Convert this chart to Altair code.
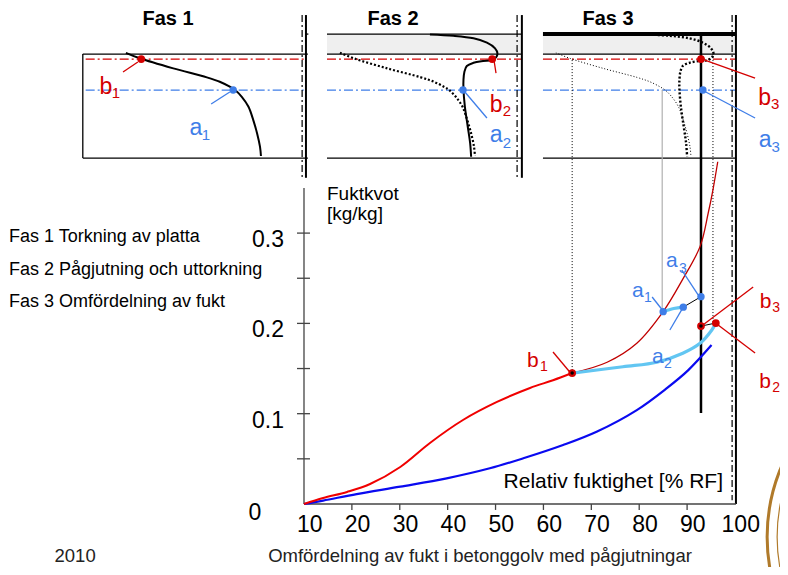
import altair as alt
import pandas as pd

# ---------------- values ----------------
# Main diagram: moisture ratio u [kg/kg] against relative humidity [% RF]
des_low_rh = [10.0, 14.0, 19.0, 23.8, 30.1, 36.3, 43.2, 50.3, 57.2, 62.0, 66.0]
des_low_u = [0.000, 0.0066, 0.0133, 0.0221, 0.041, 0.0676, 0.093, 0.113, 0.1285, 0.137, 0.145]
des_high_rh = [66.0, 73.3, 79.5, 85.0, 89.1, 92.7, 94.4, 95.4, 96.4]
des_high_u = [0.145, 0.157, 0.178, 0.213, 0.249, 0.285, 0.322, 0.348, 0.379]
abs_rh = [10.0, 14.0, 21.0, 30.1, 39.8, 48.8, 55.8, 64.1, 71.1, 79.5, 85.7, 90.2, 95.1]
abs_u = [0.000, 0.0037, 0.011, 0.0192, 0.0284, 0.0395, 0.0506, 0.0653, 0.080, 0.104, 0.128, 0.148, 0.176]
path_b_rh = [66.0, 76.6, 83.7, 89.1, 92.7, 95.2, 96.0]
path_b_u = [0.145, 0.152, 0.157, 0.167, 0.178, 0.193, 0.2004]
path_a_rh = [85.0, 87.2, 89.2]
path_a_u = [0.213, 0.2165, 0.218]

# states b1..a3: in the main diagram and in the profile panels
state_names = ["b1", "a1", "b2", "a2", "b3", "a3"]
state_main_rh = [66.0, 85.0, 96.0, 89.2, 92.9, 92.9]
state_main_u = [0.145, 0.213, 0.2004, 0.218, 0.197, 0.2296]
state_panel = ["Fas1", "Fas1", "Fas2", "Fas2", "Fas3", "Fas3"]
state_panel_rh = [65.8, 85.0, 94.4, 88.3, 92.9, 93.3]
state_depth = [4.8, 34.6, 4.8, 34.6, 4.8, 34.6]

# moisture profiles: RH [%] against depth [mm] (0 = top of slab, negative = topping)
prof1_rh = [62.6, 65.5, 72.5, 79.5, 82.2, 84.3, 85.4, 86.8, 88.2, 89.2, 90.0, 90.6, 90.8]
prof1_d = [-1.2, 4.1, 13.8, 22.4, 26.6, 31.4, 34.6, 41.1, 50.7, 63.5, 76.3, 89.1, 98.0]
prof2_rh = [81.4, 86.3, 90.5, 93.3, 95.0, 95.5, 95.2, 94.3, 92.5, 90.5, 89.1, 88.6, 88.4, 88.4,
            88.7, 89.3, 89.8, 90.0]
prof2_d = [-18.9, -17.6, -15.1, -10.9, -5.5, -0.7, 3.2, 5.8, 6.7, 8.4, 11.5, 17.0, 25.0, 33.9,
           50.7, 69.9, 85.9, 98.8]
prof3_rh = 92.9

x_ticks = [10, 20, 30, 40, 50, 60, 70, 80, 90, 100]
y_ticks = [0.05, 0.10, 0.15, 0.20, 0.25, 0.30]
y_labels = [0.1, 0.2, 0.3]

panel_titles = ["Fas 1", "Fas 2", "Fas 3"]
phase_texts = ["Fas 1 Torkning av platta", "Fas 2 Pågjutning och uttorkning",
               "Fas 3 Omfördelning av fukt"]
footer_year = "2010"
footer_title = "Omfördelning av fukt i betonggolv med pågjutningar"

# ---------------- layout ----------------
W, H = 772, 559
X_DOM = [-51.81, 109.40]
Y_DOM = [-0.0698, 0.5493]
OFF = {"Fas1": 89.79, "Fas2": 45.10, "Fas3": 0.0, "main": 0.0}
SLAB_TOP = 0.4983
DEPTH_K = 0.0011517
WALL = {"Fas1": 100.2, "Fas2": 100.6, "Fas3": 100.2}
WALL_DD = {"Fas1": 99.4, "Fas2": 99.6, "Fas3": 99.4}
LEFT = {"Fas1": 53.6, "Fas2": 59.9, "Fas3": 59.9}
FONT = "Liberation Sans, Arial, sans-serif"
RED = "#d40000"
BLUE = "#3f7ee8"
LBLUE = "#62c6f2"

XS = alt.Scale(domain=X_DOM, nice=False, zero=False)
YS = alt.Scale(domain=Y_DOM, nice=False, zero=False)


def FX(p, x):
    return x - OFF[p]


def FY(p, v):
    return v if p == "main" else SLAB_TOP - v * DEPTH_K


def xy():
    return dict(x=alt.X("fx:Q", scale=XS, axis=None), y=alt.Y("fy:Q", scale=YS, axis=None))


def line_layer(series, color, width, dash=None, interp="catmull-rom"):
    rows = []
    for g, (p, xs, ys) in enumerate(series):
        for i, (x, y) in enumerate(zip(xs, ys)):
            rows.append({"g": g, "i": i, "fx": FX(p, x), "fy": FY(p, y)})
    kw = dict(color=color, strokeWidth=width, interpolate=interp)
    if dash:
        kw["strokeDash"] = dash
    return alt.Chart(pd.DataFrame(rows)).mark_line(**kw).encode(
        **xy(), detail="g:N", order="i:Q")


def rule_layer(segs, color, width, dash=None):
    rows = [{"fx": FX(p1, x1), "fy": FY(p1, y1), "fx2": FX(p2, x2), "fy2": FY(p2, y2)}
            for p1, x1, y1, p2, x2, y2 in segs]
    kw = dict(color=color, strokeWidth=width)
    if dash:
        kw["strokeDash"] = dash
    return alt.Chart(pd.DataFrame(rows)).mark_rule(**kw).encode(
        **xy(), x2="fx2:Q", y2="fy2:Q")


def rect_layer(boxes, color):
    rows = [{"fx": FX(p, x1), "fy": FY(p, y1), "fx2": FX(p, x2), "fy2": FY(p, y2)}
            for p, x1, y1, x2, y2 in boxes]
    return alt.Chart(pd.DataFrame(rows)).mark_rect(color=color).encode(
        **xy(), x2="fx2:Q", y2="fy2:Q")


def text_layer(rows, **props):
    df = pd.DataFrame([{"fx": FX(p, x), "fy": FY(p, y), "t": t} for p, x, y, t in rows])
    return alt.Chart(df).mark_text(font=FONT, **props).encode(**xy(), text="t:N")


def point_layer(pts, color, size, filled=True, sw=1):
    df = pd.DataFrame([{"fx": FX(p, x), "fy": FY(p, y)} for p, x, y in pts])
    return alt.Chart(df).mark_point(shape="circle", filled=filled, color=color, size=size,
                                    strokeWidth=sw, opacity=1).encode(**xy())


layers = []

# --- panel backgrounds and frames
layers.append(rect_layer([("Fas2", LEFT["Fas2"], -19.2, WALL["Fas2"], 0),
                          ("Fas3", LEFT["Fas3"], -17.6, WALL["Fas3"], 0)], "#efefef"))
frame = []
for p in ["Fas1", "Fas2", "Fas3"]:
    frame.append((p, LEFT[p], 0, p, WALL[p] + (0.4 if p == "Fas1" else 0), 0))
    frame.append((p, LEFT[p], 100, p, WALL[p] + (0.4 if p == "Fas1" else 0), 100))
frame.append(("Fas1", LEFT["Fas1"], 0, "Fas1", LEFT["Fas1"], 100))
frame.append(("Fas1", WALL["Fas1"], -19.2, "Fas1", WALL["Fas1"] + 0.5, -19.2))
frame.append(("Fas2", LEFT["Fas2"], -19.2, "Fas2", WALL["Fas2"], -19.2))
layers.append(rule_layer(frame, "black", 1.3))
layers.append(rule_layer([("Fas3", LEFT["Fas3"], -19.4, "Fas3", WALL["Fas3"], -19.4)], "black", 4))

# --- levels b (red) and a (blue)
layers.append(rule_layer([(p, LEFT[p] + (0.6 if p == "Fas1" else 0), 4.8, p, WALL[p], 4.8)
                          for p in ["Fas1", "Fas2", "Fas3"]], RED, 1.2, [9, 3, 2, 3]))
layers.append(rule_layer([(p, LEFT[p] + (0.6 if p == "Fas1" else 0), 34.6, p, WALL[p], 34.6)
                          for p in ["Fas1", "Fas2", "Fas3"]], BLUE, 1.2, [9, 3, 2, 3]))

# --- walls (100 % RF)
layers.append(rule_layer([("Fas1", WALL["Fas1"], -37.5, "Fas1", WALL["Fas1"], 119),
                          ("Fas2", WALL["Fas2"], -37.5, "Fas2", WALL["Fas2"], 119),
                          ("Fas3", WALL["Fas3"], -37.5, "main", WALL["Fas3"], 0)], "black", 2))
layers.append(rule_layer([("Fas1", WALL_DD["Fas1"], -37.5, "Fas1", WALL_DD["Fas1"], 119),
                          ("Fas2", WALL_DD["Fas2"], -37.5, "Fas2", WALL_DD["Fas2"], 119),
                          ("Fas3", WALL_DD["Fas3"], -37.5, "main", WALL_DD["Fas3"], 0.004)],
                         "black", 1.2, [7, 3, 2, 3]))

# --- connectors between the Fas 3 panel and the main diagram
layers.append(rule_layer([("Fas3", 66.0, 5.8, "main", 66.0, 0.145),
                          ("Fas3", 95.4, 0, "main", 95.4, 0.2004)], "black", 1, [1, 2]))
layers.append(rule_layer([("Fas3", 84.8, 34.6, "main", 84.8, 0.213)], "#b0b0b0", 1.2))

# --- profiles
layers.append(line_layer([("Fas3", prof1_rh, prof1_d)], "black", 1, [1, 2]))
layers.append(line_layer([("Fas2", prof1_rh, prof1_d)], "black", 2.2, [2, 2]))
layers.append(line_layer([("Fas3", prof2_rh, prof2_d)], "black", 2.4, [2, 2]))
layers.append(line_layer([("Fas1", prof1_rh, prof1_d), ("Fas2", prof2_rh, prof2_d)], "black", 2))
layers.append(rule_layer([("Fas3", prof3_rh, -17.6, "main", prof3_rh, 0.1008)], "black", 2.5))

# --- axes of the main diagram
axis = [("main", 10, 0, "main", 10, 0.35), ("main", 10, 0, "main", WALL["Fas3"], 0)]
axis += [("main", 8.54, v, "main", 11.25, v) for v in y_ticks]
axis += [("main", v, 0, "main", v, -0.0066) for v in x_ticks[1:-1]]
layers.append(rule_layer(axis, "#444444", 1.3))

# --- main curves
layers.append(line_layer([("main", abs_rh, abs_u)], "#0a0af0", 2.2))
layers.append(line_layer([("main", des_low_rh, des_low_u)], "#f00000", 2))
layers.append(line_layer([("main", des_high_rh, des_high_u)], "#c00000", 1.3))
layers.append(line_layer([("main", path_b_rh, path_b_u), ("main", path_a_rh, path_a_u)], LBLUE, 3.2))
layers.append(rule_layer([("main", state_main_rh[3], state_main_u[3], "main", state_main_rh[5], state_main_u[5]),
                          ("main", state_main_rh[2], state_main_u[2], "main", state_main_rh[4], state_main_u[4])],
                         "black", 1))

# --- pointer lines
layers.append(rule_layer([("Fas1", 62.0, 17.3, "Fas1", 65.1, 7.7),
                          ("Fas2", 95.2, 18.3, "Fas2", 94.8, 6.7),
                          ("Fas3", 104.2, 23.1, "Fas3", 93.7, 5.8),
                          ("main", 62.0, 0.1683, "main", 65.5, 0.1462),
                          ("main", 103.8, 0.2403, "main", 93.3, 0.1982),
                          ("main", 104.2, 0.1672, "main", 96.2, 0.1993)], RED, 1.3))
layers.append(rule_layer([("Fas1", 80.4, 48.1, "Fas1", 84.3, 36.5),
                          ("Fas2", 93.3, 61.5, "Fas2", 88.7, 36.5),
                          ("Fas3", 104.2, 61.5, "Fas3", 93.9, 36.5),
                          ("main", 82.7, 0.2292, "main", 85.0, 0.2137),
                          ("main", 86.4, 0.1927, "main", 89.1, 0.2171),
                          ("main", 88.9, 0.2591, "main", 92.3, 0.2315)], BLUE, 1.3))

# --- state points
b_idx = [0, 2, 4]
a_idx = [1, 3, 5]
layers.append(point_layer([(state_panel[i], state_panel_rh[i], state_depth[i]) for i in b_idx]
                          + [("main", state_main_rh[i], state_main_u[i]) for i in b_idx], RED, 60))
layers.append(point_layer([(state_panel[i], state_panel_rh[i], state_depth[i]) for i in a_idx]
                          + [("main", state_main_rh[i], state_main_u[i]) for i in a_idx], BLUE, 55))
layers.append(point_layer([("main", state_main_rh[0], state_main_u[0]),
                           ("main", state_main_rh[4], state_main_u[4])], "black", 12))

# --- labels of the states: letter + subscript
red_letters = [("Fas1", 58.4, 38.5, "b"), ("Fas2", 95.2, 55.8, "b"), ("Fas3", 106.2, 49.0, "b")]
red_subs = [("Fas1", 60.5, 42.3, "1"), ("Fas2", 97.5, 59.6, "2"), ("Fas3", 108.4, 52.9, "3")]
blue_letters = [("Fas1", 77.2, 77.9, "a"), ("Fas2", 95.2, 84.6, "a"), ("Fas3", 106.3, 89.4, "a")]
blue_subs = [("Fas1", 79.3, 82.7, "1"), ("Fas2", 97.5, 90.4, "2"), ("Fas3", 108.5, 94.2, "3")]
m_red_letters = [("main", 57.8, 0.1517, "b"), ("main", 106.4, 0.2171, "b"), ("main", 106.3, 0.1285, "b")]
m_red_subs = [("main", 60.1, 0.1473, "1"), ("main", 108.6, 0.2126, "3"), ("main", 108.6, 0.124, "2")]
m_blue_letters = [("main", 79.7, 0.2292, "a"), ("main", 86.8, 0.2625, "a"), ("main", 83.9, 0.1561, "a")]
m_blue_subs = [("main", 81.8, 0.2237, "1"), ("main", 89.1, 0.2558, "3"), ("main", 86.0, 0.1506, "2")]
layers.append(text_layer(red_letters, fontSize=23, color=RED, align="center", baseline="alphabetic"))
layers.append(text_layer(red_subs, fontSize=15, color=RED, align="center", baseline="alphabetic"))
layers.append(text_layer(blue_letters, fontSize=23, color=BLUE, align="center", baseline="alphabetic"))
layers.append(text_layer(blue_subs, fontSize=15, color=BLUE, align="center", baseline="alphabetic"))
layers.append(text_layer(m_red_letters, fontSize=21, color=RED, align="center", baseline="alphabetic"))
layers.append(text_layer(m_red_subs, fontSize=14, color=RED, align="center", baseline="alphabetic"))
layers.append(text_layer(m_blue_letters, fontSize=21, color=BLUE, align="center", baseline="alphabetic"))
layers.append(text_layer(m_blue_subs, fontSize=14, color=BLUE, align="center", baseline="alphabetic"))

# --- panel titles
layers.append(text_layer([("Fas1", 71.4, -27.9, panel_titles[0]), ("Fas2", 73.7, -27.9, panel_titles[1]),
                          ("Fas3", 73.5, -27.9, panel_titles[2])],
                         fontSize=20, fontWeight="bold", color="black", align="center", baseline="alphabetic"))

# --- axis texts
layers.append(text_layer([("main", v + 1.2, -0.031, str(v)) for v in x_ticks],
                         fontSize=23, color="black", align="center", baseline="alphabetic"))
layers.append(text_layer([("main", 5.82, v - 0.0155, f"{v:.1f}") for v in y_labels],
                         fontSize=23, color="black", align="right", baseline="alphabetic"))
layers.append(text_layer([("main", -0.23, -0.0177, "0")],
                         fontSize=23, color="black", align="center", baseline="alphabetic"))
layers.append(text_layer([("main", 14.8, 0.3367, "Fuktkvot"), ("main", 14.8, 0.3150, "[kg/kg]")],
                         fontSize=19, color="black", align="left", baseline="alphabetic"))
layers.append(text_layer([("main", 97.5, 0.0177, "Relativ fuktighet [% RF]")],
                         fontSize=21, color="black", align="right", baseline="alphabetic"))

# --- left side texts and footer
layers.append(text_layer([("main", -51.6, 0.2901, phase_texts[0]), ("main", -51.6, 0.2536, phase_texts[1]),
                          ("main", -51.6, 0.2182, phase_texts[2])],
                         fontSize=18, color="black", align="left", baseline="alphabetic"))
layers.append(text_layer([("main", -37.8, -0.0642, footer_year), ("main", 46.75, -0.0642, footer_title)],
                         fontSize=18.5, color="#222222", align="center", baseline="alphabetic"))

# --- university seal (partly visible at the right edge)
layers.append(point_layer([("main", 144.3, -0.0365)], "#b07a2a", 129600, filled=False, sw=3))
layers.append(point_layer([("main", 144.3, -0.0365)], "#b07a2a", 115600, filled=False, sw=1.2))

chart = alt.layer(*layers).properties(
    width=W, height=H, padding=0, autosize=alt.AutoSizeParams(type="none")
).configure_view(stroke=None)

chart.save("out.html", embed_options={"renderer": "svg", "actions": False})
